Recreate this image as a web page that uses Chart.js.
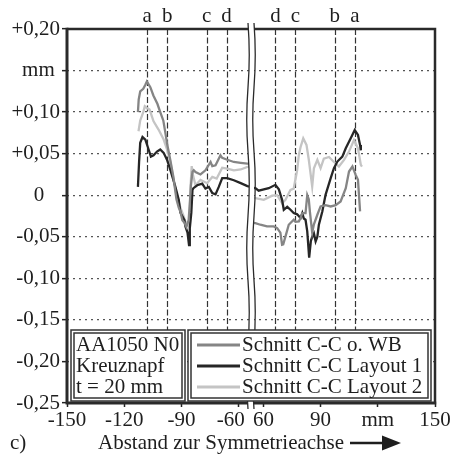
<!DOCTYPE html>
<html>
<head>
<meta charset="utf-8">
<script src="https://cdn.jsdelivr.net/npm/chart.js@4.4.1/dist/chart.umd.min.js"></script>
<style>
  html, body { margin: 0; padding: 0; background: #fff; }
  canvas { display: block; }
</style>
</head>
<body>
<canvas id="chart" width="457" height="457"></canvas>
<script>
// Profile deviation along section C-C (mm), broken x axis around the symmetry axis
const gapHalf = 53.5;            // |x| below this is cut out of the axis

const yTicks = [-0.25, -0.2, -0.15, -0.1, -0.05, 0, 0.05, 0.1, 0.15, 0.2];
const yTickLabels = ['-0,25', '-0,20', '-0,15', '-0,10', '-0,05', '0   ', '+0,05', '+0,10', 'mm ', '+0,20'];
const xTicks = [-150, -120, -90, -60, 60, 90, 120, 150];
const xTickLabels = ['-150', '-120', '-90', '-60\u2002 ', '60', '90', 'mm', '150'];

const markNames = ['a', 'b', 'c', 'd', 'd', 'c', 'b', 'a'];
const markPos = [-108, -97.4, -76.8, -66.3, 66.3, 76.8, 97.4, 108];

const seriesNames = ['Schnitt C-C o. WB', 'Schnitt C-C Layout 1', 'Schnitt C-C Layout 2'];
const infoLines = ['AA1050 N0', 'Kreuznapf', 't = 20 mm'];

// Schnitt C-C o. WB
const wbPos = [-112.8, -112.4, -111.6, -110, -108.9, -108.1, -106.3, -104.7, -102.6, -101.1,
  -99.5, -98.4, -97.5, -95.8, -94.2, -93.2, -92.6, -91.4, -90.5, -89.5,
  -88.4, -87.4, -86.2, -85.6, -85.0, -84.2, -83.5, -82.6, -80, -77.4,
  -74.7, -73.8, -72.1, -69.5, -68.6, -66.3, -62.5, -58.9, -55.4, -53.5,
  53.5, 55.8, 58.4, 61.9, 65.4, 67.2, 68.9, 69.8, 70.4, 71.6,
  73.3, 75.9, 76.8, 78.6, 79.5, 80.4, 82.1, 83.0, 83.8, 84.4,
  85.6, 86.5, 88.3, 90, 92.6, 95.3, 97.9, 100.5, 103.2, 104.9,
  106.7, 108.4, 109.6, 110.7];
const wbVal = [0.10, 0.115, 0.125, 0.128, 0.133, 0.137, 0.13, 0.12, 0.11, 0.10,
  0.09, 0.075, 0.062, 0.042, 0.022, 0.005, -0.005, -0.015, -0.02, -0.03,
  -0.033, -0.038, -0.03, -0.01, 0.012, 0.028, 0.03, 0.028, 0.025, 0.03,
  0.04, 0.035, 0.036, 0.048, 0.045, 0.043, 0.04, 0.039, 0.038, 0.038,
  -0.033, -0.0335, -0.0355, -0.0375, -0.0375, -0.0395, -0.045, -0.0595, -0.059, -0.0495,
  -0.0355, -0.0295, -0.032, -0.0315, -0.0275, -0.0215, -0.0215, 0.0, -0.005, -0.02,
  -0.045, -0.035, -0.0235, -0.0135, -0.012, -0.0135, -0.012, -0.0075, 0.0085, 0.0285,
  0.0345, 0.0245, 0.0185, -0.0195];

// Schnitt C-C Layout 1
const l1Pos = [-112.8, -112.2, -111.6, -110.4, -108.9, -107.2, -106, -104.6, -102.8, -101.1,
  -99.3, -97.5, -95.8, -93.2, -91.4, -90.5, -88.4, -87.9, -86.8, -86.0,
  -85.6, -84.8, -84.2, -83.7, -81.7, -79.1, -77.4, -75.6, -73.8, -72.1,
  -70.4, -68.6, -66, -62.5, -58.9, -55.4, -53.5,
  53.5, 55.8, 57.5, 60.2, 62.8, 66.3, 68.1, 69.8, 70.7, 72.5,
  74.2, 75.9, 77.7, 79.5, 80.4, 81.2, 82.1, 83, 84.0, 84.9,
  85.6, 86.5, 87.4, 88.3, 89.1, 90.9, 92.6, 95.3, 97, 98.8,
  101.4, 103.2, 105.8, 107.9, 109.6, 110.7, 111.1];
const l1Val = [0.010, 0.04, 0.063, 0.070, 0.067, 0.055, 0.0465, 0.048, 0.0525, 0.055,
  0.051, 0.0425, 0.0305, 0.0105, -0.0055, -0.021, -0.03, -0.0375, -0.045, -0.06,
  -0.04, -0.021, 0.0065, 0.0085, 0.012, 0.014, 0.008, 0.01, 0.0025, 0.001,
  0.01, 0.0205, 0.0205, 0.018, 0.0145, 0.011, 0.01,
  0.009, 0.0085, 0.0055, 0.007, 0.0085, 0.0125, 0.007, -0.0055, -0.0175, -0.014,
  -0.0175, -0.0215, -0.023, -0.0275, -0.0215, -0.028, -0.0295, -0.0435, -0.075, -0.055,
  -0.05, -0.046, -0.0555, -0.05, -0.0355, -0.0195, 0.0005, 0.0205, 0.0325, 0.0405,
  0.0465, 0.0565, 0.0685, 0.0785, 0.0725, 0.0605, 0.054];

// Schnitt C-C Layout 2
const l2Pos = [-112.5, -111.6, -110, -109.2, -108.1, -106.7, -104.6, -102.0, -99.3, -97.5,
  -95.8, -94.2, -93, -91.4, -90.5, -88.9, -87.9, -86.2, -85.6, -85.2,
  -84.6, -84.0, -82.6, -80, -76.5, -73.8, -71.5, -68.6, -66, -62.5,
  -58.9, -55.4, -53.5,
  53.5, 55.8, 60.2, 64.6, 67.2, 69.8, 71.6, 74.2, 75.9, 77.7,
  78.6, 79.5, 80.9, 82.6, 83.8, 85.6, 86.5, 88.3, 90, 91.7,
  94.4, 97, 99.6, 102.3, 104.9, 107.5, 109.6, 111.1, 111.7];
const l2Val = [0.077, 0.09, 0.1, 0.107, 0.105, 0.103, 0.089, 0.079, 0.067, 0.055,
  0.04, 0.02, 0.005, -0.008, -0.015, -0.025, -0.032, -0.037, -0.02, 0.01,
  0.035, 0.025, 0.012, 0.0185, 0.0145, 0.022, 0.02, 0.033, 0.032, 0.03,
  0.031, 0.034, 0.034,
  -0.003, -0.0035, -0.0055, -0.0005, 0.0, -0.0095, -0.0055, 0.0065, 0.008, 0.03,
  0.0485, 0.058, 0.0685, 0.0605, 0.043, 0.0105, 0.0325, 0.0425, 0.0325, 0.044,
  0.046, 0.040, 0.0345, 0.0425, 0.0525, 0.0665, 0.0565, 0.0365, 0.0345];

const seriesColors = ['#858585', '#262626', '#c4c4c4'];

const FONT = 'Liberation Serif, Times New Roman, serif';
const INK = '#1e1e1e';

// position on the broken axis: the cut-out middle part is removed
const toAxis = v => (v < 0 ? v + gapHalf : v - gapHalf);

function buildPoints(pos, val) {
  const pts = [];
  pos.forEach((p, i) => {
    if (i > 0 && pos[i - 1] < 0 && p > 0) pts.push({ x: 0, y: null });
    pts.push({ x: toAxis(p), y: val[i] });
  });
  return pts;
}

function wavyPath(ctx, x, y0, y1) {
  const n = 6;
  const h = (y1 - y0) / n;
  ctx.moveTo(x, y0);
  for (let i = 0; i < n; i++) {
    const ya = y0 + i * h;
    const dir = i % 2 === 0 ? 1 : -1;
    ctx.quadraticCurveTo(x + dir * 2.5, ya + h / 2, x, ya + h);
  }
}

const decorations = {
  id: 'decorations',
  beforeDatasetsDraw(chart) {
    const { ctx, chartArea: a } = chart;
    const xs = chart.scales.x;
    ctx.save();
    ctx.strokeStyle = '#333';
    ctx.lineWidth = 1.2;
    ctx.setLineDash([6, 2.5]);
    markPos.forEach(p => {
      const px = Math.round(xs.getPixelForValue(toAxis(p))) + 0.5;
      ctx.beginPath();
      ctx.moveTo(px, a.top);
      ctx.lineTo(px, a.bottom);
      ctx.stroke();
    });
    ctx.restore();
  },
  afterDraw(chart) {
    const { ctx, chartArea: a } = chart;
    const xs = chart.scales.x;
    ctx.save();

    // frame
    ctx.strokeStyle = '#2a2a2a';
    ctx.lineWidth = 2.5;
    ctx.beginPath();
    ctx.moveTo(a.left, a.top); ctx.lineTo(a.right, a.top); ctx.lineTo(a.right, a.bottom);
    ctx.stroke();
    ctx.lineWidth = 3;
    ctx.beginPath();
    ctx.moveTo(a.left, a.top - 1.2); ctx.lineTo(a.left, a.bottom); ctx.lineTo(a.right + 1.2, a.bottom);
    ctx.stroke();

    // axis break
    const cx = xs.getPixelForValue(0);
    const y0 = a.top - 6, y1 = a.bottom + 6;
    ctx.fillStyle = '#fff';
    ctx.beginPath();
    wavyPath(ctx, cx - 3, y0, y1);
    ctx.lineTo(cx + 3, y1);
    ctx.lineTo(cx + 3, y0);
    ctx.closePath();
    ctx.fill();
    ctx.fillRect(cx - 2, y0, 4, y1 - y0);
    ctx.strokeStyle = '#2a2a2a';
    ctx.lineWidth = 1.3;
    [cx - 3, cx + 3].forEach(bx => {
      ctx.beginPath();
      wavyPath(ctx, bx, y0, y1);
      ctx.stroke();
    });

    // info box and legend box
    const box = (x0, yA, x1, yB) => {
      ctx.fillStyle = '#fff';
      ctx.fillRect(x0, yA, x1 - x0, yB - yA);
      ctx.strokeStyle = '#333';
      ctx.lineWidth = 1.5;
      ctx.strokeRect(x0, yA, x1 - x0, yB - yA);
      ctx.strokeRect(x0 + 3, yA + 3, x1 - x0 - 6, yB - yA - 6);
    };
    box(71, 330, 185, 401);
    box(188, 330, 431, 401);

    ctx.font = '21px ' + FONT;
    ctx.fillStyle = INK;
    ctx.textBaseline = 'middle';
    ctx.textAlign = 'left';
    const rows = [345, 366, 387];
    infoLines.forEach((t, i) => ctx.fillText(t, 76, rows[i]));

    chart.data.datasets.forEach((ds, i) => {
      ctx.strokeStyle = ds.borderColor;
      ctx.lineWidth = 3;
      ctx.beginPath();
      ctx.moveTo(197, rows[i]);
      ctx.lineTo(240, rows[i]);
      ctx.stroke();
      ctx.fillStyle = INK;
      ctx.fillText(ds.label, 242, rows[i]);
    });

    // letters above the marker lines
    ctx.textAlign = 'center';
    ctx.textBaseline = 'alphabetic';
    markPos.forEach((p, i) => {
      ctx.fillText(markNames[i], xs.getPixelForValue(toAxis(p)), 22);
    });

    // axis caption with arrow
    ctx.textAlign = 'left';
    ctx.fillText('c)', 10, 449);
    ctx.fillText('Abstand zur Symmetrieachse', 98, 449);
    ctx.strokeStyle = INK;
    ctx.lineWidth = 2.5;
    ctx.beginPath();
    ctx.moveTo(350, 443);
    ctx.lineTo(386, 443);
    ctx.stroke();
    ctx.fillStyle = INK;
    ctx.beginPath();
    ctx.moveTo(401, 443);
    ctx.lineTo(382, 435.5);
    ctx.lineTo(382, 450.5);
    ctx.closePath();
    ctx.fill();

    ctx.restore();
  }
};

const tickFont = { family: FONT, size: 21 };

new Chart(document.getElementById('chart'), {
  type: 'line',
  data: {
    datasets: [
      { label: seriesNames[0], data: buildPoints(wbPos, wbVal), borderColor: seriesColors[0] },
      { label: seriesNames[1], data: buildPoints(l1Pos, l1Val), borderColor: seriesColors[1] },
      { label: seriesNames[2], data: buildPoints(l2Pos, l2Val), borderColor: seriesColors[2] }
    ].map(d => Object.assign(d, { borderWidth: 2.3, pointRadius: 0, tension: 0, spanGaps: false, fill: false }))
  },
  options: {
    responsive: false,
    animation: false,
    devicePixelRatio: 1,
    layout: { padding: { top: 29, right: 22, left: 0, bottom: 0 } },
    plugins: { legend: { display: false }, tooltip: { enabled: false } },
    scales: {
      x: {
        type: 'linear',
        min: toAxis(-150),
        max: toAxis(150),
        afterBuildTicks: s => { s.ticks = xTicks.map(v => ({ value: toAxis(v) })); },
        afterFit: s => { s.height = 54; },
        grid: { drawOnChartArea: false, tickLength: 4, tickColor: '#222', tickWidth: 1.5, tickBorderDash: [] },
        border: { display: false },
        ticks: {
          autoSkip: false, maxRotation: 0, padding: 1, color: INK, font: tickFont,
          callback: (v, i) => xTickLabels[i]
        }
      },
      y: {
        min: -0.25,
        max: 0.2,
        afterBuildTicks: s => { s.ticks = yTicks.map(v => ({ value: v })); },
        afterFit: s => { s.width = 67; },
        grid: { color: '#555', lineWidth: 1.3, tickLength: 5, tickColor: '#222', tickWidth: 1.5, tickBorderDash: [] },
        border: { display: false, dash: [2, 4] },
        ticks: {
          padding: 2, color: INK, font: tickFont,
          callback: (v, i) => yTickLabels[i]
        }
      }
    }
  },
  plugins: [decorations]
});
</script>
</body>
</html>
